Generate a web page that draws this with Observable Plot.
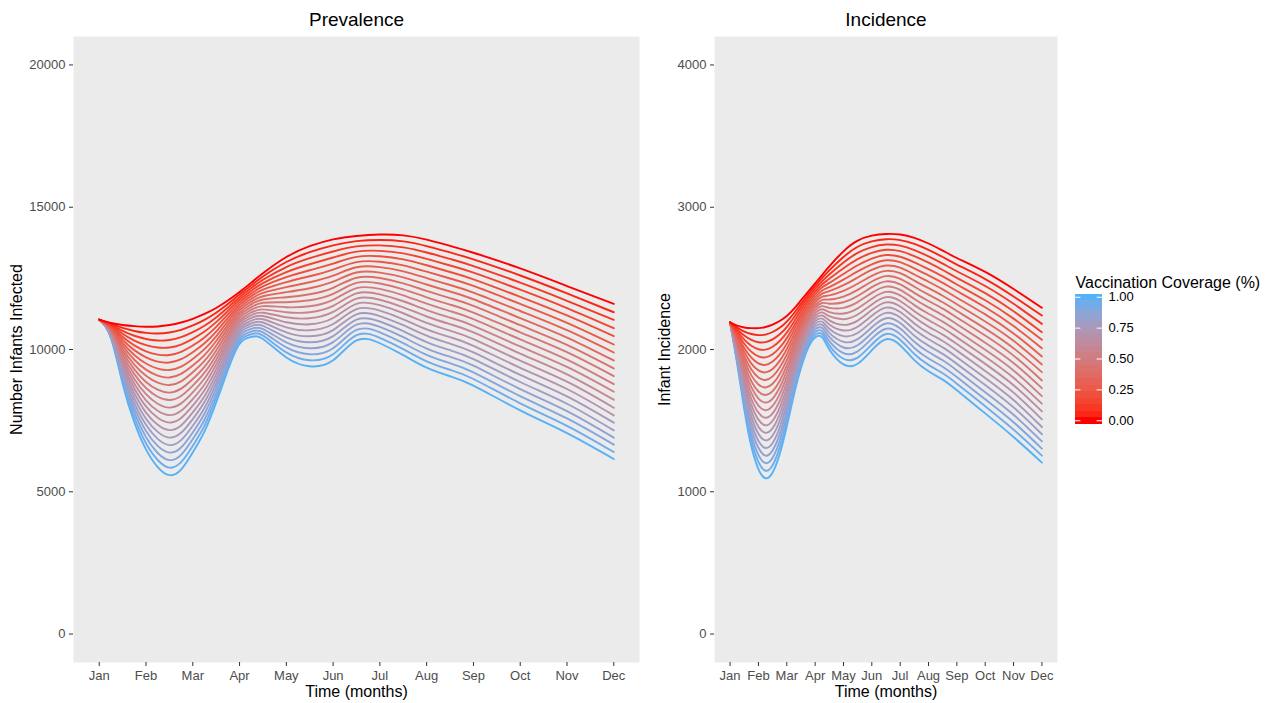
<!DOCTYPE html>
<html><head><meta charset="utf-8">
<script src="https://cdn.jsdelivr.net/npm/d3@7"></script>
<script src="https://cdn.jsdelivr.net/npm/@observablehq/plot@0.6"></script>
<style>
html,body{margin:0;padding:0;background:#fff;}
#chart{position:relative;width:1267px;height:703px;overflow:hidden;font-family:"Liberation Sans",Arial,Helvetica,sans-serif;}
#chart > div{position:absolute;}
#chart svg{display:block;overflow:visible;}
</style></head><body>
<div id="chart"><div id="left" style="left:0;top:0"></div><div id="right" style="left:645px;top:0"></div><div id="legend" style="left:1065px;top:266px"></div></div>
<script>
const FONT = '"Liberation Sans", Arial, Helvetica, sans-serif';
const months = ["Jan","Feb","Mar","Apr","May","Jun","Jul","Aug","Sep","Oct","Nov","Dec"];
const coverage = [0,0.05,0.1,0.15,0.2,0.25,0.3,0.35,0.4,0.45,0.5,0.55,0.6,0.65,0.7,0.75,0.8,0.85,0.9,0.95,1];
const knotMonths = [1,1.25,1.5,1.75,2,2.25,2.5,2.75,3,3.25,3.5,3.75,4,4.25,4.5,5,5.5,6,6.5,7,7.5,8,8.5,9,10,11,12];
const prevalenceTicks = [0,5000,10000,15000,20000];
const incidenceTicks = [0,1000,2000,3000,4000];
const legendTicks = [0,0.25,0.5,0.75,1];

// rows: knot month; columns: coverage 0 -> 1
const prevalence = [
[11050,11050,11050,11050,11050,11050,11050,11050,11050,11050,11050,11050,11050,11050,11050,11050,11050,11050,11050,11050,11050],
[10930,10904,10877,10851,10824,10798,10771,10745,10718,10692,10665,10639,10612,10586,10559,10533,10506,10480,10453,10427,10400],
[10860,10757,10654,10551,10448,10345,10242,10139,10036,9933,9830,9727,9624,9521,9418,9315,9212,9109,9006,8903,8800],
[10820,10652,10483,10315,10146,9978,9809,9641,9472,9304,9135,8967,8798,8630,8461,8293,8124,7956,7787,7619,7450],
[10800,10585,10369,10154,9938,9723,9507,9292,9076,8861,8645,8430,8214,7999,7783,7568,7352,7137,6921,6706,6490],
[10810,10563,10316,10069,9822,9575,9328,9081,8834,8587,8340,8093,7846,7599,7352,7105,6858,6611,6364,6117,5870],
[10860,10596,10333,10069,9805,9541,9278,9014,8750,8486,8223,7959,7695,7431,7168,6904,6640,6376,6113,5849,5585],
[10950,10692,10433,10175,9916,9658,9399,9141,8882,8624,8365,8107,7848,7590,7331,7073,6814,6556,6297,6039,5780],
[11080,10845,10610,10375,10140,9905,9670,9435,9200,8965,8730,8495,8260,8025,7790,7555,7320,7085,6850,6615,6380],
[11250,11044,10837,10631,10424,10218,10011,9805,9598,9392,9185,8979,8772,8566,8359,8153,7946,7740,7533,7327,7120],
[11460,11294,11128,10962,10796,10630,10464,10298,10132,9966,9800,9634,9468,9302,9136,8970,8804,8638,8472,8306,8140],
[11720,11598,11476,11354,11232,11110,10988,10866,10744,10622,10500,10378,10256,10134,10012,9890,9768,9646,9524,9402,9280],
[12020,11929,11838,11747,11656,11565,11474,11383,11292,11201,11110,11019,10928,10837,10746,10655,10564,10473,10382,10291,10200],
[12350,12255,12159,12064,11968,11873,11777,11682,11586,11491,11395,11300,11204,11109,11013,10918,10822,10727,10631,10536,10440],
[12680,12565,12449,12334,12218,12103,11987,11872,11756,11641,11525,11410,11294,11179,11063,10948,10832,10717,10601,10486,10370],
[13250,13074,12897,12721,12544,12368,12191,12015,11838,11662,11485,11309,11132,10956,10779,10603,10426,10250,10073,9897,9720],
[13630,13419,13208,12997,12786,12575,12364,12153,11942,11731,11520,11309,11098,10887,10676,10465,10254,10043,9832,9621,9410],
[13870,13658,13445,13233,13020,12808,12595,12383,12170,11958,11745,11533,11320,11108,10895,10683,10470,10258,10045,9833,9620],
[13990,13807,13623,13440,13256,13073,12889,12706,12522,12339,12155,11972,11788,11605,11421,11238,11054,10871,10687,10504,10320],
[14040,13849,13658,13467,13276,13085,12894,12703,12512,12321,12130,11939,11748,11557,11366,11175,10984,10793,10602,10411,10220],
[14010,13800,13589,13379,13168,12958,12747,12537,12326,12116,11905,11695,11484,11274,11063,10853,10642,10432,10221,10011,9800],
[13860,13635,13410,13185,12960,12735,12510,12285,12060,11835,11610,11385,11160,10935,10710,10485,10260,10035,9810,9585,9360],
[13640,13411,13182,12953,12724,12495,12266,12037,11808,11579,11350,11121,10892,10663,10434,10205,9976,9747,9518,9289,9060],
[13400,13167,12933,12700,12466,12233,11999,11766,11532,11299,11065,10832,10598,10365,10131,9898,9664,9431,9197,8964,8730],
[12850,12601,12351,12102,11852,11603,11353,11104,10854,10605,10355,10106,9856,9607,9357,9108,8858,8609,8359,8110,7860],
[12230,11972,11713,11455,11196,10938,10679,10421,10162,9904,9645,9387,9128,8870,8611,8353,8094,7836,7577,7319,7060],
[11604,11309,11042,10747,10467,10175,9895,9614,9333,9063,8782,8516,8235,7954,7684,7428,7158,6902,6656,6396,6151]
];

const incidence = [
[2190,2190,2190,2190,2190,2190,2190,2190,2190,2190,2190,2190,2190,2190,2190,2190,2190,2190,2190,2190,2190],
[2168,2155,2141,2128,2114,2101,2088,2074,2061,2047,2034,2021,2007,1994,1980,1967,1954,1940,1927,1913,1900],
[2155,2126,2098,2069,2040,2011,1983,1954,1925,1896,1868,1839,1810,1781,1753,1724,1695,1666,1638,1609,1580],
[2150,2109,2067,2026,1984,1943,1901,1860,1818,1777,1735,1694,1652,1611,1569,1528,1486,1445,1403,1362,1320],
[2150,2101,2051,2002,1952,1903,1853,1804,1754,1705,1655,1606,1556,1507,1457,1408,1358,1309,1259,1210,1160],
[2158,2105,2052,1999,1945,1892,1839,1786,1733,1680,1627,1573,1520,1467,1414,1361,1308,1254,1201,1148,1095],
[2175,2123,2071,2019,1967,1915,1863,1811,1759,1707,1655,1603,1551,1499,1447,1395,1343,1291,1239,1187,1135],
[2200,2153,2107,2060,2013,1966,1920,1873,1826,1779,1733,1686,1639,1592,1546,1499,1452,1405,1359,1312,1265],
[2235,2196,2158,2119,2080,2041,2003,1964,1925,1886,1848,1809,1770,1731,1693,1654,1615,1576,1538,1499,1460],
[2285,2255,2225,2194,2164,2134,2104,2073,2043,2013,1983,1952,1922,1892,1862,1831,1801,1771,1741,1710,1680],
[2345,2321,2298,2274,2250,2226,2203,2179,2155,2131,2108,2084,2060,2036,2013,1989,1965,1941,1918,1894,1870],
[2405,2385,2366,2346,2326,2306,2287,2267,2247,2227,2208,2188,2168,2148,2129,2109,2089,2069,2050,2030,2010],
[2465,2446,2427,2408,2389,2370,2351,2332,2313,2294,2275,2256,2237,2218,2199,2180,2161,2142,2123,2104,2085],
[2525,2503,2481,2459,2437,2415,2393,2371,2349,2327,2305,2283,2261,2239,2217,2195,2173,2151,2129,2107,2085],
[2585,2556,2527,2497,2468,2439,2410,2380,2351,2322,2293,2263,2234,2205,2176,2146,2117,2088,2059,2029,2000],
[2690,2650,2611,2571,2531,2491,2452,2412,2372,2332,2293,2253,2213,2173,2134,2094,2054,2014,1975,1935,1895],
[2765,2722,2679,2635,2592,2549,2506,2462,2419,2376,2333,2289,2246,2203,2160,2116,2073,2030,1987,1943,1900],
[2800,2760,2720,2679,2639,2599,2559,2518,2478,2438,2398,2357,2317,2277,2237,2196,2156,2116,2076,2035,1995],
[2812,2775,2738,2701,2664,2627,2590,2553,2516,2479,2442,2405,2368,2331,2294,2257,2220,2183,2146,2109,2072],
[2808,2769,2730,2691,2652,2614,2575,2536,2497,2458,2419,2380,2341,2302,2263,2225,2186,2147,2108,2069,2030],
[2785,2742,2699,2656,2613,2570,2527,2484,2441,2398,2355,2312,2269,2226,2183,2140,2097,2054,2011,1968,1925],
[2745,2700,2655,2610,2565,2521,2476,2431,2386,2341,2296,2251,2206,2161,2116,2072,2027,1982,1937,1892,1847],
[2695,2650,2604,2559,2514,2468,2423,2378,2332,2287,2242,2196,2151,2105,2060,2015,1969,1924,1879,1833,1788],
[2643,2597,2550,2504,2457,2411,2364,2318,2271,2225,2178,2132,2085,2039,1992,1946,1899,1853,1806,1760,1713],
[2545,2495,2446,2396,2346,2297,2247,2197,2147,2098,2048,1998,1949,1899,1849,1800,1750,1700,1650,1601,1551],
[2425,2373,2321,2269,2217,2165,2113,2061,2009,1957,1905,1853,1801,1749,1697,1645,1593,1541,1489,1437,1385],
[2293,2239,2180,2121,2068,2009,1951,1895,1841,1782,1728,1672,1619,1565,1509,1455,1404,1354,1303,1254,1205]
];

const colorScale = {type: "linear", domain: [0, 1], range: ["#FF0000", "#56B1F7"], interpolate: "lab", clamp: true};

function tidy(table) {
  const out = [];
  for (let k = coverage.length - 1; k >= 0; k--)
    for (let i = 0; i < knotMonths.length; i++)
      out.push({month: knotMonths[i], coverage: coverage[k], value: table[i][k]});
  return out;
}

function panel({table, title, yLabel, yDomain, yTicks, width, marginLeft, marginRight, yLabelDx}) {
  return Plot.plot({
    width, height: 703, marginTop: 36, marginBottom: 41, marginLeft, marginRight,
    style: {fontFamily: FONT, fontSize: "13px", color: "#4D4D4D", background: "transparent", overflow: "visible"},
    x: {domain: [0.45, 12.55], axis: null},
    y: {domain: yDomain, axis: null},
    color: colorScale,
    marks: [
      Plot.frame({fill: "#EBEBEB", stroke: "none"}),
      Plot.line(tidy(table), {x: "month", y: "value", z: "coverage", stroke: "coverage", strokeWidth: 1.9, curve: "natural"}),
      Plot.axisX({ticks: months.map((m, i) => i + 1), tickFormat: d => months[d - 1], tickSize: 4, tickPadding: 4, stroke: "#333333", fill: "#4D4D4D", fontSize: 13, label: null}),
      Plot.axisY({ticks: yTicks, tickFormat: d => String(d), tickSize: 4, tickPadding: 4, stroke: "#333333", fill: "#4D4D4D", fontSize: 13, label: null}),
      Plot.text([title], {frameAnchor: "top", dy: -17, text: d => d, fontSize: 19, fill: "black", lineAnchor: "middle", textAnchor: "middle"}),
      Plot.text(["Time (months)"], {frameAnchor: "bottom", dy: 29, text: d => d, fontSize: 16, fill: "black", lineAnchor: "middle", textAnchor: "middle"}),
      Plot.text([yLabel], {frameAnchor: "left", dx: yLabelDx, rotate: -90, text: d => d, fontSize: 16, fill: "black", lineAnchor: "middle", textAnchor: "middle"})
    ]
  });
}

function legendPlot() {
  const bins = d3.range(20);
  const pos = v => v * 0.95 + 0.025;
  return Plot.plot({
    width: 202, height: 170, marginTop: 27.5, marginBottom: 12.5, marginLeft: 10, marginRight: 165,
    style: {fontFamily: FONT, fontSize: "13px", color: "black", background: "transparent", overflow: "visible"},
    x: {domain: [0, 1], axis: null},
    y: {domain: [0, 1], axis: null},
    color: colorScale,
    marks: [
      Plot.rect(bins, {x1: () => 0, x2: () => 1, y1: d => d / 20, y2: d => (d + 1) / 20, fill: d => d / 19, shapeRendering: "crispEdges"}),
      Plot.ruleY(legendTicks, {y: pos, x1: () => 0, x2: () => 0.2, stroke: "white", strokeWidth: 1}),
      Plot.ruleY(legendTicks, {y: pos, x1: () => 0.8, x2: () => 1, stroke: "white", strokeWidth: 1}),
      Plot.text(legendTicks, {x: () => 1, y: pos, dx: 6, text: d3.format(".2f"), textAnchor: "start", lineAnchor: "middle", fontSize: 13, fill: "black"}),
      Plot.text(["Vaccination Coverage (%)"], {frameAnchor: "top-left", dy: -11.5, text: d => d, textAnchor: "start", lineAnchor: "middle", fontSize: 16, fill: "black"})
    ]
  });
}

document.getElementById("left").append(panel({
  table: prevalence, title: "Prevalence", yLabel: "Number Infants Infected",
  yDomain: [-1000, 21000], yTicks: prevalenceTicks, width: 645, marginLeft: 73, marginRight: 6, yLabelDx: -57
}));
document.getElementById("right").append(panel({
  table: incidence, title: "Incidence", yLabel: "Infant Incidence",
  yDomain: [-200, 4200], yTicks: incidenceTicks, width: 420, marginLeft: 69, marginRight: 8, yLabelDx: -50
}));
document.getElementById("legend").append(legendPlot());
</script>
</body></html>
